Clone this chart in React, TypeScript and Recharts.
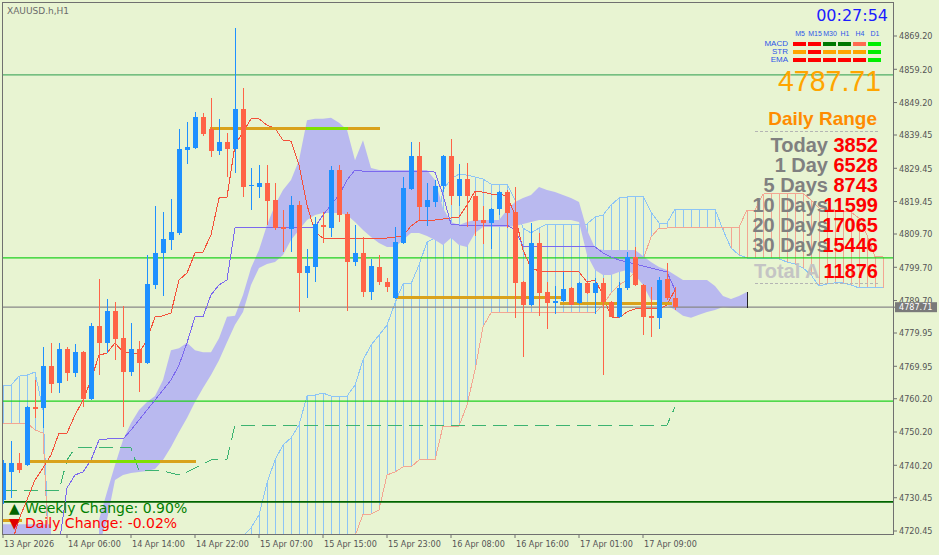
import React from "react";
import { ComposedChart, Bar, Line, Area, XAxis, YAxis, ReferenceLine } from "recharts";

const W = 939;
const H = 555;
const BG = "#e8f4d2";
const AXIS = "#707070";
const BULL = "#1e90ff";
const BEAR = "#ff6347";
const SANS = "'Liberation Sans', Arial, sans-serif";
const DV = "'DejaVu Sans', sans-serif";
const DVC = "'DejaVu Sans Condensed', 'DejaVu Sans', sans-serif";

// ---- axes ----
const TIME_TICKS = [0, 8, 16, 24, 32, 40, 48, 56, 64, 72, 80];
const TIME_LABELS = [
  "13 Apr 2026", "14 Apr 06:00", "14 Apr 14:00", "14 Apr 22:00", "15 Apr 07:00",
  "15 Apr 15:00", "15 Apr 23:00", "16 Apr 08:00", "16 Apr 16:00", "17 Apr 01:00", "17 Apr 09:00",
];
const PRICE_TICKS = [
  4869.2, 4859.2, 4849.2, 4839.45, 4829.45, 4819.45, 4809.7, 4799.7,
  4789.7, 4779.95, 4769.95, 4760.2, 4750.2, 4740.2, 4730.45, 4720.45,
];
const LAST_PRICE = 4787.71;
const X_DOMAIN = [-0.125, 111.25];
const Y_DOMAIN = [4719.55, 4879.42];

// ---- candles (H1) ----
const OPEN = [
  4729.8, 4738.2, 4740.9, 4740.3, 4757.7, 4757.4, 4770.0, 4764.9, 4775.2, 4767.9,
  4774.2, 4760.1, 4782.1, 4777.0, 4786.6, 4778.5, 4768.2, 4775.2, 4770.9, 4794.4,
  4804.0, 4807.9, 4810.0, 4834.9, 4835.5, 4844.9, 4841.3, 4834.6, 4837.4, 4835.3,
  4847.3, 4824.1, 4823.8, 4825.0, 4819.9, 4811.8, 4811.2, 4818.4, 4798.0, 4799.8,
  4812.4, 4811.5, 4828.9, 4815.7, 4801.3, 4804.0, 4792.3, 4799.8, 4795.3, 4790.5,
  4807.0, 4823.2, 4833.1, 4817.8, 4819.3, 4824.1, 4833.1, 4821.1, 4826.2, 4821.1,
  4813.9, 4813.0, 4817.2, 4822.3, 4816.3, 4795.3, 4788.4, 4807.0, 4792.3, 4789.0,
  4789.6, 4793.5, 4789.0, 4795.0, 4792.0, 4795.0, 4789.3, 4784.8, 4793.5, 4802.8,
  4794.4, 4785.1, 4784.5, 4796.2, 4790.5,
];
const HIGH = [
  4741.8, 4747.5, 4743.9, 4758.0, 4765.8, 4775.8, 4777.0, 4777.0, 4775.8, 4776.7,
  4774.5, 4783.0, 4796.2, 4790.2, 4789.3, 4788.1, 4783.0, 4777.6, 4803.4, 4818.1,
  4816.3, 4820.2, 4841.3, 4843.4, 4846.4, 4846.1, 4850.6, 4844.3, 4840.1, 4871.6,
  4853.6, 4829.5, 4830.4, 4830.4, 4825.0, 4816.9, 4821.1, 4819.6, 4805.2, 4814.8,
  4816.3, 4830.1, 4830.4, 4816.3, 4812.4, 4808.8, 4802.2, 4803.4, 4796.5, 4811.8,
  4826.8, 4837.4, 4837.4, 4825.0, 4825.9, 4833.4, 4838.3, 4830.7, 4831.0, 4822.3,
  4818.1, 4817.4, 4822.6, 4822.9, 4823.8, 4795.5, 4813.0, 4810.0, 4795.3, 4794.1,
  4798.3, 4793.7, 4795.3, 4795.3, 4796.5, 4796.5, 4789.5, 4795.3, 4804.3, 4805.8,
  4794.6, 4793.8, 4796.8, 4801.0, 4793.8,
];
const LOW = [
  4728.5, 4730.4, 4737.9, 4740.0, 4754.4, 4751.4, 4761.9, 4761.9, 4765.5, 4766.7,
  4757.7, 4759.8, 4767.3, 4773.9, 4771.8, 4751.7, 4767.0, 4762.2, 4770.7, 4793.2,
  4791.1, 4804.9, 4809.4, 4830.7, 4835.3, 4839.2, 4832.8, 4833.4, 4826.8, 4828.0,
  4820.8, 4816.9, 4820.5, 4812.4, 4810.9, 4804.3, 4804.3, 4786.3, 4790.5, 4795.3,
  4807.0, 4808.8, 4813.3, 4786.6, 4800.1, 4790.8, 4789.9, 4794.4, 4792.3, 4790.3,
  4806.8, 4822.9, 4813.9, 4812.1, 4817.8, 4822.3, 4818.4, 4818.1, 4811.8, 4809.1,
  4806.7, 4805.2, 4815.4, 4811.5, 4784.5, 4772.7, 4788.2, 4785.1, 4781.2, 4785.7,
  4789.4, 4788.2, 4788.8, 4791.8, 4785.7, 4767.3, 4784.6, 4784.6, 4792.9, 4794.2,
  4779.4, 4778.8, 4781.2, 4789.9, 4786.9,
];
const CLOSE = [
  4740.9, 4740.9, 4738.8, 4757.7, 4757.1, 4770.0, 4764.6, 4775.2, 4767.9, 4774.2,
  4760.1, 4782.1, 4777.0, 4786.6, 4778.2, 4768.2, 4775.2, 4770.9, 4794.7, 4804.0,
  4808.2, 4810.3, 4835.3, 4835.9, 4844.9, 4839.8, 4834.6, 4837.4, 4835.3, 4847.3,
  4823.8, 4824.4, 4825.0, 4819.6, 4811.5, 4811.2, 4818.4, 4798.0, 4800.1, 4812.7,
  4811.8, 4828.9, 4815.4, 4801.3, 4804.0, 4792.3, 4800.1, 4795.3, 4793.8, 4807.3,
  4823.5, 4833.1, 4817.8, 4819.9, 4824.1, 4833.1, 4821.1, 4826.2, 4821.1, 4813.6,
  4813.0, 4817.2, 4822.3, 4816.0, 4795.0, 4788.4, 4807.0, 4792.0, 4789.0, 4789.6,
  4793.2, 4788.4, 4795.0, 4792.0, 4795.0, 4789.3, 4784.8, 4793.5, 4802.8, 4794.4,
  4784.8, 4784.5, 4795.9, 4790.5, 4787.71,
];

// ---- indicator lines ----
const TENKAN = [
  null, 4716.0, 4724.0, 4729.8, 4735.8, 4739.4, 4743.3, 4749.9, 4749.9, 4755.3,
  4759.8, 4765.8, 4773.3, 4773.9, 4777.0, 4774.2, 4773.9, 4773.9, 4777.9, 4784.8,
  4785.1, 4786.0, 4795.9, 4798.0, 4804.0, 4804.3, 4809.4, 4820.5, 4820.8, 4836.4,
  4840.3, 4844.3, 4844.3, 4842.4, 4841.5, 4837.9, 4837.6, 4830.4, 4818.4, 4810.3,
  4808.5, 4808.5, 4808.5, 4808.5, 4808.5, 4808.5, 4808.5, 4808.5, 4808.5, 4808.8,
  4809.1, 4812.1, 4813.9, 4813.9, 4813.9, 4814.2, 4814.5, 4814.8, 4818.4, 4822.6,
  4822.3, 4821.7, 4821.7, 4821.1, 4815.4, 4804.9, 4799.5, 4798.6, 4798.3, 4798.3,
  4798.3, 4798.3, 4798.3, 4795.3, 4795.9, 4791.4, 4784.8, 4784.5, 4786.3, 4787.2,
  4787.2, 4787.2, 4787.2, 4788.4, 4792.9,
];
const KIJUN = [
  null, null, null, null, null, null, null, 4716.0, 4733.4, 4737.3,
  4738.2, 4741.8, 4747.8, 4748.1, 4748.1, 4748.1, 4750.8, 4753.8, 4756.8, 4759.8,
  4762.8, 4765.8, 4770.3, 4777.0, 4784.8, 4784.8, 4791.4, 4794.4, 4795.9, 4811.5,
  4811.8, 4811.8, 4811.8, 4811.8, 4811.8, 4811.8, 4811.8, 4811.8, 4811.8, 4811.8,
  4815.4, 4818.4, 4821.4, 4825.9, 4828.9, 4828.6, 4828.6, 4828.6, 4828.6, 4828.6,
  4828.6, 4828.6, 4828.6, 4828.6, 4828.3, 4821.4, 4812.7, 4812.4, 4812.4, 4812.4,
  4812.4, 4812.4, 4812.4, 4812.4, 4810.9, 4806.1, 4805.8, 4805.8, 4805.8, 4805.8,
  4805.8, 4805.8, 4805.8, 4805.8, 4805.8, 4804.0, 4802.8, 4801.9, 4801.3, 4800.7,
  4800.1, 4799.5, 4798.9, 4798.3, 4792.9,
];
const SPAN_A = [
  4764.3, 4764.3, 4767.0, 4767.3, 4768.2, 4756.8, 4700.0, null, null, null,
  null, null, null, null, null, null, null, null, null, null,
  null, null, null, null, null, null, null, null, null, null,
  4718.9, 4721.4, 4725.3, 4734.9, 4741.8, 4746.3, 4748.4, 4752.3, 4761.0, 4761.3,
  4761.9, 4761.0, 4761.0, 4761.0, 4764.3, 4771.8, 4776.3, 4779.3, 4782.3, 4789.0,
  4794.7, 4794.7, 4800.4, 4807.3, 4808.5, 4822.9, 4826.2, 4827.7, 4827.4, 4826.8,
  4826.2, 4824.7, 4824.7, 4824.7, 4819.9, 4811.5, 4810.0, 4811.5, 4812.7, 4812.7,
  4812.7, 4812.7, 4812.7, 4812.7, 4814.8, 4815.4, 4818.4, 4820.5, 4820.8, 4821.1,
  4821.1, 4816.3, 4813.0, 4813.0, 4817.2, 4817.2, 4817.2, 4817.2, 4817.2, 4817.2,
  4810.9, 4805.5, 4803.4, 4802.5, 4802.2, 4802.2, 4802.2, 4802.2, 4801.3, 4800.7,
  4799.5, 4797.4, 4794.1, 4794.7, 4795.0, 4795.0, 4794.4, 4793.5, 4793.5, 4793.5,
  4793.5,
];
const SPAN_B = [
  4752.9, 4752.9, 4752.9, 4752.9, 4750.8, 4749.9, 4700.0, null, null, null,
  null, null, null, null, null, null, null, null, null, null,
  null, null, null, null, null, null, null, null, null, null,
  4700.0, 4700.0, 4700.0, 4700.0, 4700.0, 4700.0, 4700.0, 4700.0, 4700.0, 4700.0,
  4700.0, 4700.0, 4700.0, 4700.0, 4718.9, 4725.5, 4725.5, 4726.8, 4737.3, 4738.2,
  4739.7, 4739.7, 4741.8, 4741.8, 4741.8, 4752.0, 4752.0, 4752.0, 4758.3, 4768.8,
  4781.8, 4786.0, 4786.0, 4786.0, 4786.0, 4786.0, 4786.0, 4786.0, 4786.0, 4786.0,
  4786.0, 4786.0, 4786.0, 4786.0, 4786.0, 4788.4, 4792.0, 4794.4, 4795.9, 4798.3,
  4801.9, 4808.8, 4811.5, 4811.5, 4811.8, 4811.8, 4811.8, 4811.8, 4811.8, 4811.8,
  4811.8, 4811.8, 4811.8, 4816.9, 4816.9, 4821.7, 4822.0, 4822.0, 4822.0, 4822.0,
  4822.0, 4819.9, 4817.5, 4817.2, 4816.9, 4816.6, 4816.3, 4814.5, 4809.4, 4802.8,
  4802.8,
];
const CLOUD_TOP = [
  4722.5, 4722.5, 4722.5, 4722.5, 4722.5, 4722.5, 4722.5, null, null, null,
  null, null, 4723.8, 4732.2, 4740.3, 4747.8, 4752.9, 4756.8, 4759.2, 4761.0,
  4765.8, 4774.8, 4775.4, 4777.0, 4774.8, 4774.2, 4774.2, 4778.4, 4784.8, 4785.1,
  4791.4, 4799.5, 4804.9, 4812.4, 4818.4, 4822.9, 4825.9, 4831.9, 4843.9, 4844.3,
  4844.3, 4844.6, 4843.1, 4841.0, 4831.9, 4837.9, 4829.5, 4828.9, 4828.9, 4828.9,
  4828.9, 4828.9, 4828.9, 4828.9, 4825.9, 4817.5, 4813.3, 4812.4, 4813.3, 4813.9,
  4813.9, 4813.9, 4813.9, 4816.9, 4819.3, 4820.5, 4821.4, 4823.8, 4822.9, 4822.3,
  4821.4, 4820.5, 4819.3, 4810.9, 4805.5, 4804.9, 4804.9, 4804.9, 4804.9, 4804.9,
  4803.1, 4801.3, 4799.8, 4798.9, 4797.4, 4795.9, 4795.9, 4795.9, 4795.9, 4794.1,
  4791.1, 4790.2, 4791.1, 4792.3,
];
const CLOUD_BOT = [
  4716.2, 4716.2, 4716.2, 4716.2, 4716.2, 4716.2, 4716.2, null, null, null,
  null, null, 4716.2, 4723.8, 4735.8, 4737.3, 4737.9, 4738.2, 4738.5, 4739.1,
  4741.8, 4745.7, 4750.2, 4754.4, 4759.2, 4763.4, 4767.3, 4771.8, 4777.2, 4782.4,
  4786.3, 4794.4, 4799.5, 4800.7, 4801.3, 4803.4, 4807.9, 4810.9, 4813.9, 4815.4,
  4816.0, 4816.0, 4816.0, 4815.4, 4813.3, 4810.9, 4808.8, 4807.0, 4805.8, 4805.8,
  4807.9, 4810.0, 4810.0, 4809.1, 4807.9, 4806.4, 4808.5, 4806.4, 4805.8, 4810.0,
  4811.8, 4811.8, 4811.8, 4811.8, 4812.1, 4812.7, 4813.3, 4813.9, 4813.9, 4813.9,
  4813.9, 4813.9, 4813.3, 4803.4, 4798.9, 4797.4, 4797.4, 4798.3, 4798.9, 4797.4,
  4794.4, 4789.9, 4789.9, 4788.4, 4786.9, 4785.1, 4784.5, 4785.4, 4786.3, 4786.9,
  4787.8, 4787.5, 4787.5, 4787.5,
];
const SIGNAL = [
  4732.5, 4732.5, 4732.5, 4732.5, 4732.5, 4732.5, 4732.5, 4732.5, 4741.8, 4745.4,
  4745.4, 4745.4, 4745.4, 4745.4, 4745.4, 4745.4, 4745.4, 4738.5, 4738.5, 4738.5,
  4738.5, 4737.9, 4737.3, 4738.2, 4739.4, 4740.6, 4741.8, 4741.8, 4742.1, 4752.3,
  4752.3, 4752.3, 4752.3, 4752.3, 4752.3, 4752.3, 4752.3, 4752.3, 4752.3, 4752.3,
  4752.3, 4752.3, 4752.3, 4752.3, 4752.3, 4752.3, 4752.3, 4752.3, 4752.3, 4752.3,
  4752.3, 4752.3, 4752.3, 4752.3, 4752.3, 4752.3, 4752.3, 4752.3, 4752.3, 4752.3,
  4752.3, 4752.3, 4752.3, 4752.3, 4752.3, 4752.3, 4752.3, 4752.3, 4752.3, 4752.3,
  4752.3, 4752.3, 4752.3, 4752.3, 4752.3, 4752.3, 4752.3, 4752.3, 4752.3, 4752.3,
  4752.3, 4752.3, 4752.3, 4752.3, 4757.7,
];

// ---- horizontal levels ----
const FULL_LEVELS = [4857.5, 4802.5, 4787.71, 4759.5, 4729.2];
const FULL_LEVEL_COLORS = ["#4fae66", "#1fd01f", "#888888", "#1fd01f", "#006400"];
const SEG_FROM = [25.9, 37.9, 49.1, 69.6, 3.0, 13.4, 0.0];
const SEG_TO = [47.1, 43.1, 69.9, 83.6, 24.1, 19.6, 2.4];
const SEG_PRICE = [4841.3, 4841.3, 4790.5, 4788.8, 4741.4, 4741.4, 4723.5];
const SEG_COLORS = ["#d9a21c", "#7fe000", "#d9a21c", "#d9a21c", "#d9a21c", "#7fe000", "#d9a21c"];

// ---- info panel ----
const TF_LABELS = ["M5", "M15", "M30", "H1", "H4", "D1"];
const SIGNAL_NAMES = ["MACD", "STR", "EMA"];
const SIGNAL_COLORS = [
  ["#ff0000", "#ff0000", "#007800", "#007800", "#ff6a50", "#00ee00"],
  ["#ffa500", "#ff0000", "#ffa500", "#ffa500", "#ffa500", "#00ee00"],
  ["#ff0000", "#ff0000", "#ff0000", "#ff0000", "#ff0000", "#00ee00"],
];
const RANGE_LABELS = ["Today", "1 Day", "5 Days", "10 Days", "20 Days", "30 Days"];
const RANGE_VALUES = ["3852", "6528", "8743", "11599", "17065", "15446"];
const TOTAL_AVG = "11876";

const N = SPAN_A.length;
const data = Array.from({ length: N }, (_, k) => {
  const o = k < OPEN.length ? OPEN[k] : null;
  const a = SPAN_A[k];
  const b = SPAN_B[k];
  const ct = k < CLOUD_TOP.length ? CLOUD_TOP[k] : null;
  const cb = k < CLOUD_BOT.length ? CLOUD_BOT[k] : null;
  return {
    k,
    open: o,
    high: o != null ? HIGH[k] : null,
    low: o != null ? LOW[k] : null,
    close: o != null ? CLOSE[k] : null,
    candle: o != null ? [LOW[k], HIGH[k]] : null,
    tenkan: k < TENKAN.length ? TENKAN[k] : null,
    kijun: k < KIJUN.length ? KIJUN[k] : null,
    signal: k < SIGNAL.length ? SIGNAL[k] : null,
    spanA: a,
    spanB: b,
    hatch: a != null && b != null ? [Math.min(a, b), Math.max(a, b)] : null,
    hatchUp: a != null && b != null ? a >= b : true,
    cloud: ct != null && cb != null ? [cb, ct] : null,
  };
});

const Candle = (props: any) => {
  const { x, y, width, height, payload } = props;
  if (!payload || payload.open == null || x == null) return null;
  const top = height >= 0 ? y : y + height;
  const h = Math.abs(height);
  const { open, high, low, close } = payload;
  const range = high - low;
  const yOf = (p: number) => (range > 0 ? top + ((high - p) / range) * h : top);
  const cx = Math.round(x + width / 2);
  const color = close >= open ? BULL : BEAR;
  const bt = Math.round(yOf(Math.max(open, close)));
  const bb = Math.round(yOf(Math.min(open, close)));
  return (
    <g shapeRendering="crispEdges">
      <rect x={cx} y={Math.round(top)} width={1} height={Math.max(Math.round(h), 1)} fill={color} />
      <rect x={cx - 2} y={bt} width={5} height={Math.max(bb - bt, 1)} fill={color} />
    </g>
  );
};

const Hatch = (props: any) => {
  const { x, y, width, height, payload } = props;
  if (!payload || x == null) return null;
  const top = height >= 0 ? y : y + height;
  const h = Math.abs(height);
  const cx = Math.round(x + width / 2);
  return (
    <rect
      x={cx}
      y={top}
      width={1}
      height={Math.max(h, 0)}
      shapeRendering="crispEdges"
      fill={payload.hatchUp ? "#8cc4f6" : "#f3a692"}
    />
  );
};

const TimeTick = (props: any) => {
  const { x, y, payload } = props;
  const i = TIME_TICKS.indexOf(payload.value);
  return (
    <text x={x + 1} y={y + 9} fontSize={9} fontFamily={DVC} fill="#555555" textAnchor="start">
      {i >= 0 ? TIME_LABELS[i] : ""}
    </text>
  );
};

const PriceTick = (props: any) => {
  const { x, y, payload } = props;
  const v = payload.value as number;
  if (v === LAST_PRICE) {
    return (
      <g>
        <rect x={x - 4} y={y - 5} width={42} height={10} fill="#7a7a7a" />
        <text x={x} y={y} dy={3.3} fontSize={9} fontFamily={DVC} fill="#ffffff" textAnchor="start">
          {v.toFixed(2)}
        </text>
      </g>
    );
  }
  return (
    <text x={x} y={y} dy={3.3} fontSize={9} fontFamily={DVC} fill="#555555" textAnchor="start">
      {v.toFixed(2)}
    </text>
  );
};

const CRISP = { shapeRendering: "crispEdges" } as any;

export default function App() {
  return (
    <div style={{ position: "relative", width: W, height: H, background: BG, overflow: "hidden" }}>
      <style>{`html,body{margin:0;padding:0;background:${BG};}`}</style>
      <ComposedChart width={W} height={H} data={data} margin={{ top: 2, right: 0, bottom: 0, left: 2 }}>
        <XAxis
          xAxisId={0}
          dataKey="k"
          type="number"
          domain={X_DOMAIN}
          allowDataOverflow
          ticks={TIME_TICKS}
          interval={0}
          tick={(p: any) => <TimeTick {...p} />}
          tickLine={{ stroke: AXIS }}
          tickSize={4}
          tickMargin={0}
          axisLine={false}
          height={21}
        />
        <XAxis xAxisId="h" dataKey="k" type="number" domain={X_DOMAIN} allowDataOverflow hide />
        <YAxis
          orientation="right"
          type="number"
          domain={Y_DOMAIN}
          allowDataOverflow
          ticks={[...PRICE_TICKS, LAST_PRICE]}
          interval={0}
          tick={(p: any) => <PriceTick {...p} />}
          tickLine={{ stroke: AXIS }}
          tickSize={4}
          tickMargin={2}
          axisLine={false}
          width={46}
        />

        <Bar xAxisId="h" dataKey="hatch" barSize={1} shape={(p: any) => <Hatch {...p} />} isAnimationActive={false} zIndex={10} />
        <Line dataKey="spanA" type="linear" stroke="#8cc4f6" strokeWidth={1} dot={false} activeDot={false} isAnimationActive={false} zIndex={20} {...CRISP} />
        <Line dataKey="spanB" type="linear" stroke="#f3a692" strokeWidth={1} dot={false} activeDot={false} isAnimationActive={false} zIndex={20} {...CRISP} />
        <Area dataKey="cloud" type="linear" stroke="none" fill="#b9b9ef" fillOpacity={1} dot={false} activeDot={false} isAnimationActive={false} zIndex={30} />

        {FULL_LEVELS.map((v, i) => (
          <ReferenceLine key={"fl" + i} y={v} stroke={FULL_LEVEL_COLORS[i]} strokeWidth={i === 4 ? 1.6 : 1.2} zIndex={40} />
        ))}

        <Line dataKey="signal" type="linear" stroke="#3cb371" strokeWidth={1} strokeDasharray="14 7" dot={false} activeDot={false} isAnimationActive={false} zIndex={50} {...CRISP} />
        <Line dataKey="tenkan" type="linear" stroke="#f4503a" strokeWidth={1} dot={false} activeDot={false} isAnimationActive={false} zIndex={60} {...CRISP} />
        <Line dataKey="kijun" type="linear" stroke="#7b68ee" strokeWidth={1} dot={false} activeDot={false} isAnimationActive={false} zIndex={60} {...CRISP} />

        {SEG_PRICE.map((p, i) => (
          <ReferenceLine
            key={"sg" + i}
            segment={[{ x: SEG_FROM[i], y: p }, { x: SEG_TO[i], y: p }]}
            stroke={SEG_COLORS[i]}
            strokeWidth={3}
            zIndex={70}
            {...CRISP}
          />
        ))}

        <Bar dataKey="candle" barSize={5} shape={(p: any) => <Candle {...p} />} isAnimationActive={false} zIndex={80} />

        <ReferenceLine segment={[{ x: 93, y: 4787.5 }, { x: 93, y: 4792.3 }]} stroke="#222222" strokeWidth={1} zIndex={90} {...CRISP} />
      </ComposedChart>

      <div
        style={{
          position: "absolute",
          left: 2,
          top: 2,
          width: 892,
          height: 533,
          boxSizing: "border-box",
          border: `1px solid ${AXIS}`,
          pointerEvents: "none",
        }}
      />

      <svg width={W} height={H} style={{ position: "absolute", left: 0, top: 0, pointerEvents: "none" }}>
        <text x={7} y={14} fontFamily={DV} fontSize={9} fill="#6b6b6b">XAUUSD.h,H1</text>
        <text x={888} y={21} textAnchor="end" fontFamily={DV} fontSize={16} fill="#1c1cff">00:27:54</text>

        {TF_LABELS.map((t, i) => (
          <text key={t} x={800 + 15 * i} y={36} textAnchor="middle" fontFamily={SANS} fontSize={7} fill="#2e55e8">{t}</text>
        ))}
        {SIGNAL_NAMES.map((n, r) => (
          <g key={n}>
            <text x={788} y={46 + 8 * r} textAnchor="end" fontFamily={SANS} fontSize={8} fill="#2e55e8">{n}</text>
            {SIGNAL_COLORS[r].map((c, i) => (
              <rect key={i} x={793 + 15 * i} y={42 + 8 * r} width={13} height={4} fill={c} />
            ))}
          </g>
        ))}

        <text x={881} y={91} textAnchor="end" fontFamily={SANS} fontSize={30} fill="#ffa500" textLength={103} lengthAdjust="spacingAndGlyphs">4787.71</text>
        <text x={877} y={125} textAnchor="end" fontFamily={SANS} fontSize={19} fontWeight="bold" fill="#ff8c00">Daily Range</text>
        <line x1={755} y1={131.5} x2={878} y2={131.5} stroke="#b4b4b4" strokeDasharray="3 2" />

        {RANGE_LABELS.map((l, i) => (
          <g key={l}>
            <text x={828} y={152 + 20 * i} textAnchor="end" fontFamily={SANS} fontSize={20} fontWeight="bold" fill="#808080">{l}</text>
            <text x={878} y={152 + 20 * i} textAnchor="end" fontFamily={SANS} fontSize={20} fontWeight="bold" fill="#ff0000">{RANGE_VALUES[i]}</text>
          </g>
        ))}
        <text x={754} y={278} textAnchor="start" fontFamily={SANS} fontSize={20} fontWeight="bold" fill="#c4c4c4">Total A</text>
        <text x={878} y={278} textAnchor="end" fontFamily={SANS} fontSize={20} fontWeight="bold" fill="#ff0000">{TOTAL_AVG}</text>
        <line x1={755} y1={283.5} x2={880} y2={283.5} stroke="#b4b4b4" strokeDasharray="3 2" />

        <text x={9} y={513} fontFamily={DV} fontSize={14} fill="#006400">▲</text>
        <text x={25} y={513} fontFamily={DV} fontSize={14} fill="#008000">Weekly Change: 0.90%</text>
        <text x={9} y={528} fontFamily={DV} fontSize={14} fill="#e00000">▼</text>
        <text x={25} y={528} fontFamily={DV} fontSize={14} fill="#ff0000">Daily Change: -0.02%</text>
      </svg>
    </div>
  );
}
